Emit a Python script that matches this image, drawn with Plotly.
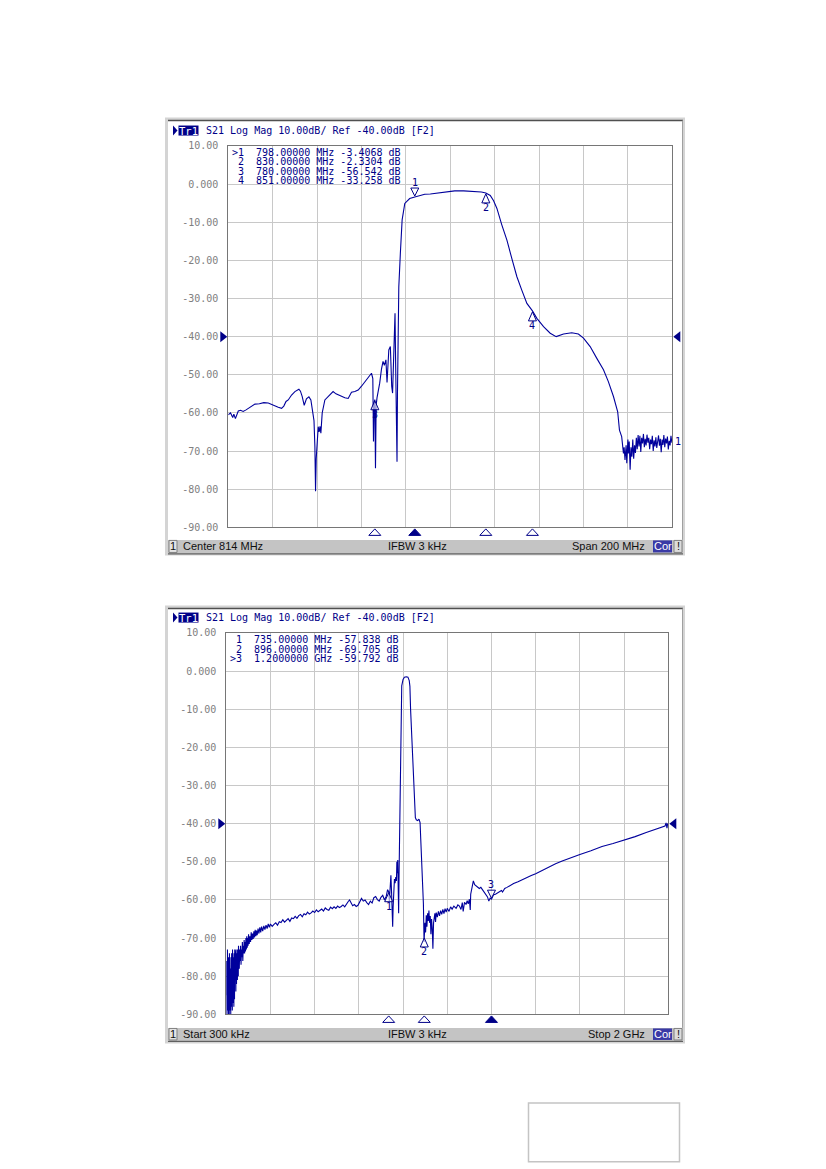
import plotly.graph_objects as go

W, H = 826, 1169

# ---------------- top screen: Center 814 MHz, Span 200 MHz ----------------
top_freq = [714, 715, 716, 716.5, 717.2, 718.5, 719.5, 720.7, 722, 723, 724.5, 726, 728, 730,
            732, 733.5, 735, 736.5, 738, 739, 740, 741, 742.5, 744, 745.8, 746.5, 747.3, 748.2,
            749.2, 750.3, 751.2, 752, 752.6, 753, 753.3, 753.6, 754, 754.5, 754.9, 755.3, 755.7,
            756, 756.3, 757.5, 758.5, 759.8, 761.2, 762.5, 763.5, 765, 766.5, 768, 769.5, 771,
            772.5, 774, 775.5, 777, 778.5, 779.1, 779.4, 779.6, 779.8, 780.0, 780.3, 780.6, 781,
            782.2, 783, 783.7, 784.3, 785, 785.5, 786, 786.3, 787, 787.4, 787.6, 788, 788.3,
            788.6, 789.1, 789.4, 789.7, 790, 790.2, 790.4, 790.8, 791.5, 792.3, 793.5, 795.7,
            798, 800, 802.5, 805, 808.5, 812, 816, 820, 825, 828, 830, 832, 833.5, 835, 837.2,
            839.5, 841.7, 844, 846.2, 848.5, 851, 853, 856, 859, 861.7, 863.5, 865, 868.7, 871.7,
            874, 877, 880, 883, 885.2, 887.5, 889.4, 889.8, 890.2, 891.2, 891.6, 892, 892.3,
            892.7, 893.2, 893.5, 894, 894.2, 894.6, 895,
            895.4, 895.8, 896.2, 896.6, 897.0, 897.4, 897.8, 898.2, 898.6, 899.0, 899.4, 899.8,
            900.2, 900.6, 901.0, 901.4, 901.8, 902.2, 902.6, 903.0, 903.4, 903.8, 904.2, 904.6,
            905.0, 905.4, 905.8, 906.2, 906.6, 907.0, 907.4, 907.8, 908.2, 908.6, 909.0, 909.4,
            909.8, 910.2, 910.6, 911.0, 911.4, 911.8, 912.2, 912.6, 913.0, 913.4, 913.8, 914.0]
top_db = [-60.5, -60.0, -61.2, -60.3, -61.5, -59.5, -59.3, -59.6, -59.2, -58.8, -58.3, -57.7,
          -57.6, -57.3, -57.4, -57.8, -58.3, -58.5, -58.8, -58.2, -57.0, -56.6, -55.3, -54.4,
          -53.8, -54.3, -55.7, -58.0, -56.3, -55.8, -56.6, -59.5, -62.0, -68.8, -80.5, -72.0,
          -68.0, -63.6, -65.0, -63.5, -65.3, -62.7, -60.0, -56.6, -56.0, -55.3, -54.4, -55.0,
          -55.3, -55.7, -56.0, -56.2, -54.6, -54.4, -54.0, -53.0, -51.8, -50.8, -49.6, -51.0,
          -67.5, -60.0, -57.0, -56.5, -74.5, -58.0, -56.0, -52.2, -48.5, -46.5, -47.5, -46.1,
          -52.0, -46.0, -43.5, -42.6, -50.0, -53.0, -54.8, -50.0, -46.0, -33.9, -48.0, -58.3,
          -72.8, -55.0, -40.0, -27.0, -18.2, -9.4, -5.1, -3.8, -3.4, -3.1, -2.7, -2.6, -2.4,
          -2.1, -1.8, -1.8, -1.9, -2.1, -2.33, -3.0, -4.4, -6.4, -10.7, -14.7, -19.5, -24.3,
          -27.8, -31.3, -33.26, -35.2, -37.4, -39.1, -40.0, -39.6, -39.3, -39.0, -39.3, -40.4,
          -42.6, -45.7, -48.7, -51.8, -55.7, -59.7, -62.0, -64.5, -66.2, -68.0, -70.6, -69.0,
          -72.3, -68.5, -73.2, -67.0, -70.6, -67.5, -74.9,
          -69.0, -71.5, -67.0, -72.0, -68.5, -70.5, -66.5, -69.5, -65.8, -68.8, -66.0, -70.2,
          -66.5, -68.0, -65.5, -69.0, -66.8, -68.5, -65.7, -67.8, -66.5, -69.5, -67.0, -68.2,
          -66.0, -70.0, -67.2, -68.8, -66.4, -69.2, -67.5, -65.9, -68.6, -66.8, -70.3, -67.0,
          -68.4, -65.8, -69.0, -66.7, -68.0, -66.2, -69.6, -67.3, -68.5, -66.0, -67.8, -67.4]
top_mk_freq = [798, 830, 780, 851]
top_mk_db = [-3.4068, -2.3304, -56.542, -33.258]
top_mk_rows = [">1  798.00000 MHz -3.4068 dB",
               " 2  830.00000 MHz -2.3304 dB",
               " 3  780.00000 MHz -56.542 dB",
               " 4  851.00000 MHz -33.258 dB"]

# ---------------- bottom screen: Start 300 kHz, Stop 2 GHz ----------------
# low end, noisy
bot_freq_low = [0.3, 1.5, 2.5, 3.5, 4.5, 5.5, 6.5, 7.5, 8.5, 9.5, 10.5, 11.5, 12.5, 13.5, 14.5,
                15.5, 16.5, 17.5, 18.5, 19.5, 20.5, 21.5, 22.5, 23.5, 24.5, 25.5, 26.5, 27.5,
                28.5, 29.5, 30.5, 31.5, 32.5, 33.5, 34.5, 35.5, 36.5, 37.5, 38.5, 39.5, 40.5,
                41.5, 42.5, 43.5, 44.5, 45.5, 46.5, 47.5, 48.5, 49.5, 50.5, 51.5, 52.5, 53.5,
                54.5, 55.5, 56.5, 57.5, 59, 61, 63, 65, 67, 69, 71, 73, 75, 77, 79, 81, 83, 85,
                87, 89, 91, 93, 95, 97, 99, 101, 104, 107, 110, 113, 116, 119, 122, 125, 128, 131,
                134, 137, 140, 144, 148, 152, 156, 160, 165, 170, 175, 180, 185, 190, 195]
bot_db_low = [-85, -76, -90, -79, -88, -73, -89, -77, -86, -90, -75, -87, -80, -90, -74,
              -84, -89, -76, -86, -78, -90, -75, -83, -88, -74, -85, -79, -89, -73,
              -84, -77, -87, -75, -82, -88, -74, -81, -86, -73, -80, -85, -75, -79,
              -84, -73, -78, -82, -74, -79, -76, -81, -73, -78, -75, -80, -72, -77,
              -74, -78, -73, -76, -72, -77, -73, -75, -71, -76, -72, -74, -70.5, -74, -71, -73.5,
              -70, -73, -69.5, -72.5, -70, -72, -69, -71.5, -69.5, -71, -68.5, -70.5, -68.8,
              -70.2, -68.2, -69.8, -67.8, -69.5, -68, -69.2, -67.5, -68.8, -67.2, -68.5, -67,
              -68.2, -66.8, -67.8, -66.6, -67.5, -66.3, -67.2]
# slow rise up to the pass band
bot_freq_mid = [200, 208, 216, 224, 232, 240, 248, 256, 264, 272, 280, 288, 296, 304, 312, 320,
                328, 336, 344, 352, 360, 368, 376, 384, 392, 400, 408, 416, 424, 432, 440, 448,
                456, 464, 472, 480, 488, 496, 504, 512, 520, 528, 536, 544, 552, 558, 564, 572,
                580, 588, 596, 604, 612, 620, 628, 636, 644, 652, 660, 668, 676, 684, 692, 700,
                708, 716, 724]
bot_db_mid = [-66.3, -66.9, -66.4, -66.0, -66.6, -65.7, -65.9, -65.2, -65.8, -65.4, -64.9, -65.6,
              -64.7, -64.9, -64.3, -64.8, -64.1, -63.8, -64.4, -63.6, -63.9, -63.2, -63.7, -63.4,
              -62.9, -63.3, -62.6, -63.1, -62.8, -62.4, -62.9, -62.1, -62.5, -62.7, -61.9, -62.3,
              -61.8, -62.2, -61.6, -62.0, -61.7, -61.3, -61.8, -60.9, -60.4, -60.0, -60.8, -61.5,
              -61.2, -61.7, -61.4, -60.5, -59.6, -60.3, -60.0, -60.7, -61.2, -60.3, -60.8, -59.4,
              -59.1, -59.9, -60.3, -59.3, -58.8, -60.0, -59.0]
# pass band
bot_freq_pass = [730, 735, 738, 742, 745, 748, 751, 753, 755, 758, 761, 764, 767, 770, 772, 774,
                 776, 778, 780, 782, 784, 786, 789, 791, 794, 800, 806, 815, 822, 828, 831, 834,
                 838, 842, 846, 850, 853, 855.6, 860, 866, 872, 877, 880, 884, 888, 892, 895, 896]
bot_db_pass = [-57.3, -57.84, -60.3, -56, -53.5, -58, -63, -67, -62, -56, -54.5, -55.6, -54, -55,
               -50, -53, -49.5, -55, -63.5, -53, -44.5, -30, -16, -7, -3.9, -2.2, -1.6, -1.5,
               -1.6, -2.5, -4, -10, -15, -21, -25.5, -31, -35, -38.4, -39, -39.2, -38.8, -39.7,
               -44, -49.7, -55, -61, -71, -69.7]
# upper stop band
bot_freq_high = [899, 902, 905, 908, 911, 914, 917, 920, 923, 926, 929, 932, 935, 938, 941, 944,
                 947, 950, 955, 960, 965, 970, 975, 980, 985, 990, 995, 1000, 1008, 1015, 1022,
                 1030, 1040, 1048, 1055, 1062, 1068, 1072, 1078, 1085, 1090, 1095, 1100, 1104,
                 1106, 1110, 1118, 1124, 1130, 1138, 1145, 1152, 1160, 1168, 1175, 1182, 1188,
                 1194, 1200, 1205, 1210, 1218, 1225, 1235, 1245, 1250, 1260, 1270, 1280, 1290,
                 1300, 1320, 1340, 1360, 1380, 1400, 1430, 1460, 1490, 1520, 1560, 1600, 1650,
                 1700, 1750, 1800, 1850, 1900, 1950, 1985, 1990, 1994, 1997, 2000]
bot_db_high = [-66, -68.5, -64, -67, -63.5, -65.5, -62.8, -66, -64.2, -69, -65, -67.5, -72.8, -66,
               -65, -63.5, -65.8, -63.3, -64.5, -63, -64.2, -62.8, -63.8, -62.5, -63.6, -62.3,
               -63.2, -62.2, -63, -61.8, -62.4, -61.6, -62.2, -61.3, -61.6, -62.5, -60.7, -63,
               -60.6, -61.2, -60.2, -61, -59.8, -62.6, -58.5, -57, -55, -56, -56.3, -56.5, -57,
               -56.7, -57.4, -58, -58.6, -59.2, -60.3, -59.5, -59.79, -59.3, -58.6, -58.5, -58.2,
               -57.8, -57.5, -57.9, -57, -56.7, -56.3, -56.1, -55.7, -55.2, -54.6, -54.0, -53.6,
               -53.1, -52.2, -51.3, -50.5, -49.8, -48.9, -48.1, -47.1, -46.0, -45.2, -44.4,
               -43.4, -42.3, -41.3, -40.6, -39.8, -41.2, -40.0, -40.2]
bot_freq = bot_freq_low + bot_freq_mid + bot_freq_pass + bot_freq_high
bot_db = bot_db_low + bot_db_mid + bot_db_pass + bot_db_high
assert len(bot_freq) == len(bot_db) and len(top_freq) == len(top_db)

bot_mk_freq = [735, 896, 1200]
bot_mk_db = [-57.838, -69.705, -59.792]
bot_mk_rows = [" 1  735.00000 MHz -57.838 dB",
               " 2  896.00000 MHz -69.705 dB",
               ">3  1.2000000 GHz -59.792 dB"]

y_ticks = [10, 0, -10, -20, -30, -40, -50, -60, -70, -80, -90]
y_labels = ["10.00", "0.000", "-10.00", "-20.00", "-30.00", "-40.00",
            "-50.00", "-60.00", "-70.00", "-80.00", "-90.00"]
header = "S21 Log Mag 10.00dB/ Ref -40.00dB [F2]"
ref_level = -40

NAVY = "#000088"
TRACE = "#00009c"
MONO = "DejaVu Sans Mono"
SANS = "Liberation Sans"

# the page photo comes out about 1.2 % shorter around its middle, so the
# vertical layout (measured in page pixels) is spread out by the same amount
K = 1 / 0.9885


def px(x):
    return x / W


def py(y):
    return 1 - (H / 2 + (y - H / 2) * K) / H


screens = [
    dict(ax="", freq=top_freq, db=top_db, mk_f=top_mk_freq, mk_db=top_mk_db,
         rows=top_mk_rows, active=0, xr=[714, 914], frame=(165, 119, 685, 556),
         plot=(228.3, 147.3, 672.3, 528), head_y=132, rows_y=[153.5, 163, 172.5, 182],
         status=(540.5, 553.5), left="Center 814 MHz", right="Span 200 MHz",
         trace_lbl=True),
    dict(ax="2", freq=bot_freq, db=bot_db, mk_f=bot_mk_freq, mk_db=bot_mk_db,
         rows=bot_mk_rows, active=2, xr=[0.3, 2000], frame=(165, 606, 685, 1043),
         plot=(226.3, 633.3, 668.3, 1014), head_y=618, rows_y=[640, 649.5, 659],
         status=(1027.5, 1040), left="Start 300 kHz", right="Stop 2 GHz",
         trace_lbl=False),
]

fig = go.Figure()
shapes = []
annos = []

for s in screens:
    fx0, fy0, fx1, fy1 = s["frame"]
    l, t, r, b = s["plot"]
    xa = "x" + s["ax"]
    ya = "y" + s["ax"]
    s0, s1 = s["status"]

    # window frame
    shapes.append(dict(type="rect", xref="paper", yref="paper", layer="below",
                       x0=px(fx0), x1=px(fx1), y0=py(fy1), y1=py(fy0),
                       fillcolor="#d4d4d4", line=dict(width=0)))
    shapes.append(dict(type="rect", xref="paper", yref="paper", layer="below",
                       x0=px(fx0 + 3), x1=px(fx1 - 2), y0=py(s0), y1=py(fy0 + 3),
                       fillcolor="white", line=dict(width=0)))
    shapes.append(dict(type="line", xref="paper", yref="paper",
                       x0=px(fx0 + 3), x1=px(fx1 - 2), y0=py(fy0 + 3), y1=py(fy0 + 3),
                       line=dict(color="#505050", width=1.5)))
    shapes.append(dict(type="line", xref="paper", yref="paper",
                       x0=px(fx1 - 2.5), x1=px(fx1 - 2.5), y0=py(s0), y1=py(fy0 + 3),
                       line=dict(color="#a0a0a0", width=1)))
    # status bar
    shapes.append(dict(type="rect", xref="paper", yref="paper",
                       x0=px(fx0 + 3), x1=px(fx1 - 2), y0=py(s1), y1=py(s0),
                       fillcolor="#c4c4c4", line=dict(width=0)))
    shapes.append(dict(type="line", xref="paper", yref="paper",
                       x0=px(fx0 + 3), x1=px(fx1 - 2), y0=py(s1 + 1), y1=py(s1 + 1),
                       line=dict(color="#606060", width=1.2)))
    shapes.append(dict(type="rect", xref="paper", yref="paper",
                       x0=px(fx0 + 4), x1=px(fx0 + 12), y0=py(s1 - 0.5), y1=py(s0 + 0.5),
                       fillcolor="#e4e4e4", line=dict(color="#808080", width=1)))
    shapes.append(dict(type="rect", xref="paper", yref="paper",
                       x0=px(fx1 - 32), x1=px(fx1 - 13), y0=py(s1 - 0.5), y1=py(s0 + 0.5),
                       fillcolor="#3a3aa6", line=dict(width=0)))
    shapes.append(dict(type="rect", xref="paper", yref="paper",
                       x0=px(fx1 - 11), x1=px(fx1 - 3), y0=py(s1 - 0.5), y1=py(s0 + 0.5),
                       fillcolor="#dcdcdc", line=dict(color="#808080", width=1)))
    sy = (s0 + s1) / 2
    annos += [
        dict(text="1", x=px(fx0 + 8), y=py(sy), xanchor="center"),
        dict(text=s["left"], x=px(fx0 + 16), y=py(sy), xanchor="left"),
        dict(text="IFBW 3 kHz", x=px(418), y=py(sy), xanchor="center"),
        dict(text=s["right"], x=px(fx1 - 38), y=py(sy), xanchor="right"),
        dict(text="Cor", x=px(fx1 - 22.5), y=py(sy), xanchor="center",
             font=dict(family=SANS, size=11, color="white")),
        dict(text="!", x=px(fx1 - 7), y=py(sy), xanchor="center"),
    ]
    for a in annos[-6:]:
        a.update(xref="paper", yref="paper", yanchor="middle", showarrow=False)
        a.setdefault("font", dict(family=SANS, size=11, color="#101010"))

    # header line
    hy = s["head_y"]
    shapes.append(dict(type="path", xref="paper", yref="paper",
                       path="M %f,%f L %f,%f L %f,%f Z" % (px(173), py(hy - 5), px(173), py(hy + 5),
                                                         px(177.5), py(hy)),
                       fillcolor=NAVY, line=dict(width=0)))
    shapes.append(dict(type="rect", xref="paper", yref="paper",
                       x0=px(178.5), x1=px(198.5), y0=py(hy + 5), y1=py(hy - 5),
                       fillcolor=NAVY, line=dict(width=0)))
    annos.append(dict(text="Tr1", x=px(188.5), y=py(hy), xanchor="center", yanchor="middle",
                      xref="paper", yref="paper", showarrow=False,
                      font=dict(family=MONO, size=10.5, color="white")))
    annos.append(dict(text=header, x=px(203.5), y=py(hy), xanchor="left", yanchor="middle",
                      xref="paper", yref="paper", showarrow=False,
                      font=dict(family=MONO, size=10, color=NAVY)))

    # marker table
    for row, ry in zip(s["rows"], s["rows_y"]):
        annos.append(dict(text=row.replace(" ", "&nbsp;"), x=px(l + 1.5), y=py(ry),
                          xanchor="left", yanchor="middle", xref="paper", yref="paper",
                          showarrow=False, font=dict(family=MONO, size=10, color=NAVY)))

    # reference level arrows on both sides
    for side, d in ((l - 1, 1), (r + 1, -1)):
        shapes.append(dict(type="path", xref="paper", yref=ya, ysizemode="pixel",
                           yanchor=ref_level,
                           path="M %f,-5.5 L %f,5.5 L %f,0 Z" % (px(side - 7 * d), px(side - 7 * d),
                                                               px(side)),
                           fillcolor=NAVY, line=dict(width=0)))

    # trace
    fig.add_trace(go.Scatter(x=s["freq"], y=s["db"], mode="lines", xaxis=xa, yaxis=ya,
                             line=dict(color=TRACE, width=1.1), hoverinfo="skip",
                             showlegend=False))

    # markers on the trace and stimulus arrows under the grid
    for i, (mf, md) in enumerate(zip(s["mk_f"], s["mk_db"])):
        num = str(i + 1)
        if i == s["active"]:
            path = "M -4,9 L 4,9 L 0,1 Z"
            shift = 15
        else:
            path = "M -4,-10 L 4,-10 L 0,-1 Z"
            shift = -15
        shapes.append(dict(type="path", xref=xa, yref=ya, xsizemode="pixel",
                           ysizemode="pixel", xanchor=mf, yanchor=md, path=path,
                           fillcolor="rgba(255,255,255,0.6)", line=dict(color=NAVY, width=1)))
        annos.append(dict(text=num, x=mf, y=md, xref=xa, yref=ya, yshift=shift,
                          showarrow=False, font=dict(family=MONO, size=10, color=NAVY)))
        shapes.append(dict(type="path", xref=xa, yref="paper", xsizemode="pixel",
                           ysizemode="pixel", xanchor=mf, yanchor=py(b),
                           path="M -6,-8 L 6,-8 L 0,-1.5 Z",
                           fillcolor=NAVY if i == s["active"] else "white",
                           line=dict(color=NAVY, width=1)))

    if s["trace_lbl"]:
        annos.append(dict(text="1", x=px(r + 1), y=s["db"][-1], xref="paper", yref=ya,
                          xanchor="left", yanchor="middle", showarrow=False,
                          font=dict(family=MONO, size=10, color=NAVY)))

    axis_x = dict(domain=[px(l), px(r)], range=s["xr"], tick0=s["xr"][0],
                  dtick=(s["xr"][1] - s["xr"][0]) / 10, showticklabels=False, ticks="",
                  showgrid=True, gridcolor="#c8c8c8", gridwidth=1, zeroline=False,
                  showline=True, mirror=True, linecolor="#767676", linewidth=1,
                  fixedrange=True, anchor=ya)
    axis_y = dict(domain=[py(b), py(t)], range=[-90, 10], tickvals=y_ticks, ticktext=y_labels,
                  ticks="outside", ticklen=7, tickcolor="rgba(0,0,0,0)",
                  tickfont=dict(family=MONO, size=10, color="#808080"),
                  showgrid=True, gridcolor="#c8c8c8", gridwidth=1, zeroline=False,
                  showline=True, mirror=True, linecolor="#767676", linewidth=1,
                  fixedrange=True, anchor=xa)
    fig.update_layout({"xaxis" + s["ax"]: axis_x, "yaxis" + s["ax"]: axis_y})

# empty box at the foot of the page
shapes.append(dict(type="rect", xref="paper", yref="paper",
                   x0=px(528.5), x1=px(679.5), y0=max(py(1162), 0.001), y1=py(1102.5),
                   line=dict(color="#c4c4c4", width=1.5)))

fig.update_layout(width=W, height=H, margin=dict(l=0, r=0, t=0, b=0),
                  paper_bgcolor="white", plot_bgcolor="white",
                  shapes=shapes, annotations=annos, showlegend=False)

# pin the figure to the top-left corner of the page, no scrollbars
pin = ("document.documentElement.style.overflow='hidden';"
       "document.body.style.margin='0';document.body.style.overflow='hidden';"
       "var d=document.getElementById('{plot_id}');"
       "d.style.position='absolute';d.style.left='0px';d.style.top='0px';")
fig.write_html("out.html", config={"displayModeBar": False}, post_script=pin)
